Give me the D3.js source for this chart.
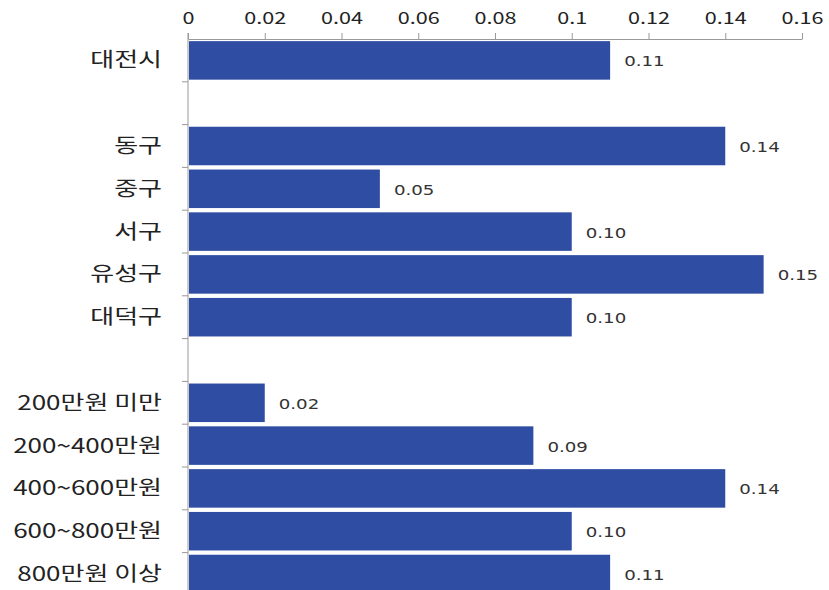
<!DOCTYPE html>
<html>
<head>
<meta charset="utf-8">
<script src="https://cdn.jsdelivr.net/npm/d3@7"></script>
<style>
  body { margin: 0; background: #fff; }
  .cat text { font-family: "Noto Sans CJK KR", sans-serif; font-size: 20px; fill: #222; }
  .xaxis text { font-family: "Noto Sans CJK KR", sans-serif; font-size: 16px; fill: #222; }
  .val { font-family: "DejaVu Sans", sans-serif; font-size: 14px; fill: #333; }
  .domain, .tick line { stroke: #999; }
</style>
</head>
<body>
<div id="chart"></div>
<script>
// Categories (empty strings are the spacer rows)
var categories = ["대전시", "", "동구", "중구", "서구", "유성구", "대덕구", "",
                  "200만원 미만", "200~400만원", "400~600만원", "600~800만원", "800만원 이상"];
var values = [0.11, null, 0.14, 0.05, 0.10, 0.15, 0.10, null,
              0.02, 0.09, 0.14, 0.10, 0.11];
var valueLabels = ["0.11", "", "0.14", "0.05", "0.10", "0.15", "0.10", "",
                   "0.02", "0.09", "0.14", "0.10", "0.11"];
var xTicks = [0, 0.02, 0.04, 0.06, 0.08, 0.1, 0.12, 0.14, 0.16];

function init() {
    var w = 829, h = 590;
    var left = 188, right = 802, top = 39;
    var step = 42.8;
    // the source picture is stretched sideways
    var stretch = 1.3;

    var rows = categories.map(function(c, i) {
        return { id: i, name: c, value: values[i], label: valueLabels[i] };
    });

    var svg = d3.select("#chart").append("svg")
        .attr("width", w).attr("height", h);

    var xScale = d3.scaleLinear().domain([0, 0.16]).range([left, right]);
    var yScale = d3.scaleBand()
        .domain(rows.map(function(d) { return d.id; }))
        .range([top, top + step * rows.length])
        .paddingInner(0.1).paddingOuter(0.05);

    var withValue = rows.filter(function(d) { return d.value !== null; });

    // bars
    svg.selectAll("rect.bar")
        .data(withValue)
        .enter().append("rect")
        .attr("class", "bar")
        .attr("x", xScale(0) + 1)
        .attr("y", function(d) { return yScale(d.id); })
        .attr("width", function(d) { return xScale(d.value) - xScale(0) - 1; })
        .attr("height", yScale.bandwidth())
        .attr("fill", "#2E4DA3");

    // value labels
    svg.selectAll("text.val")
        .data(withValue)
        .enter().append("text")
        .attr("class", "val")
        .attr("transform", function(d) {
            return "translate(" + (xScale(d.value) + 14) + "," +
                   (yScale(d.id) + yScale.bandwidth() / 2 + 6) + ") scale(" + stretch + ",1)";
        })
        .text(function(d) { return d.label; });

    // top axis
    var xAxis = d3.axisTop(xScale)
        .tickValues(xTicks)
        .tickSize(6)
        .tickSizeOuter(0)
        .tickFormat(function(d) { return String(d); });

    svg.append("g")
        .attr("class", "xaxis")
        .attr("transform", "translate(0," + top + ")")
        .call(xAxis)
        .call(function(g) {
            g.selectAll("text")
                .attr("y", -15)
                .attr("dy", "0")
                .attr("transform", "scale(" + (stretch + 0.05) + ",1)");
        });

    // left axis: line with ticks on band boundaries
    var g = svg.append("g").attr("class", "cat");
    g.append("line")
        .attr("class", "domain")
        .attr("x1", left).attr("x2", left)
        .attr("y1", top - 6).attr("y2", h);

    var bounds = rows.slice(1).map(function(d) {
        return yScale(d.id) - yScale.step() * yScale.paddingInner() / 2;
    });
    g.selectAll("line.tk").data(bounds).enter().append("line")
        .attr("class", "tick")
        .style("stroke", "#999")
        .attr("x1", left - 6).attr("x2", left)
        .attr("y1", function(d) { return d; })
        .attr("y2", function(d) { return d; });

    g.selectAll("text").data(rows).enter().append("text")
        .attr("transform", function(d) {
            return "translate(162," + (yScale(d.id) + yScale.bandwidth() / 2 + 7) +
                   ") scale(" + stretch + ",1)";
        })
        .attr("text-anchor", "end")
        .text(function(d) { return d.name; });
}

window.onload = init;
</script>
</body>
</html>
